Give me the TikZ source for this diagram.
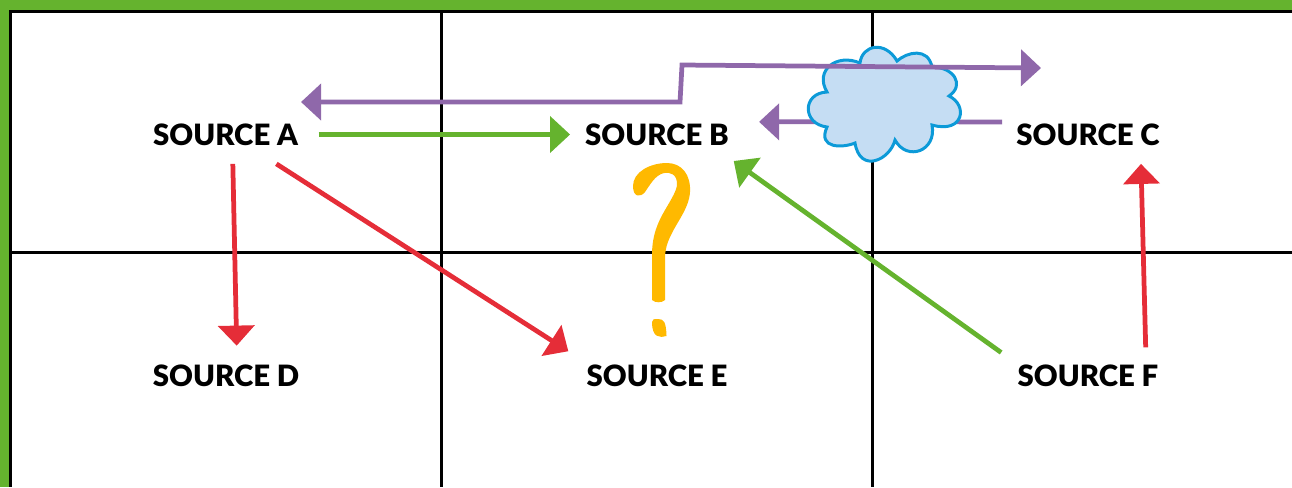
\documentclass[tikz,border=0pt]{standalone}
\usepackage{fontspec}
\setmainfont{Lato}
\newfontfamily\srcfont{Lato Black}
\usetikzlibrary{arrows.meta}
\definecolor{framegreen}{HTML}{65B32E}
\definecolor{flowpurple}{HTML}{8F68AA}
\definecolor{flowred}{HTML}{E52D38}
\definecolor{cloudfill}{HTML}{C5DDF3}
\definecolor{cloudedge}{HTML}{0C9AD8}
\definecolor{markyellow}{HTML}{FFB900}
\begin{document}
\begin{tikzpicture}[x=0.01cm,y=-0.01cm]
\tikzset{source/.style={inner sep=5pt,text height=6.3pt,text depth=0pt,font=\srcfont\fontsize{8.35}{10}\selectfont}}
\tikzset{gridline/.style={draw=black,line width=0.85pt}}
\tikzset{flow/.style={line width=1.35pt,-{Triangle[length=5.7pt,width=10.2pt]}}}
\useasboundingbox (0,0) rectangle (1292,487);
% border and grid
\fill[framegreen] (0,0) rectangle (1292,10);
\fill[framegreen] (0,0) rectangle (9.5,487);
\draw[gridline] (1292,11.5) -- (10.5,11.5) -- (10.5,487);
\draw[gridline] (441,11.5) -- (441,487);
\draw[gridline] (872,11.5) -- (872,487);
\draw[gridline] (10.5,252) -- (1292,252);

\node[source] (srcA) at (225.5,134.5) {SOURCE A};
\node[source] (srcB) at (657,134.5) {SOURCE B};
\node[source] (srcC) at (1088,134.5) {SOURCE C};
\node[source] (srcD) at (226,375) {SOURCE D};
\node[source] (srcE) at (657,375) {SOURCE E};
\node[source] (srcF) at (1088,375) {SOURCE F};

\draw[flow,flowpurple,shorten >=3.4pt,shorten <=-1.1pt] (srcC.172) -- (srcB.8);
% cloud sits over the lower purple line
\draw[cloudedge,fill=cloudfill,line width=0.85pt] (860,63)
  .. controls (862,45) and (885,40) .. (897,61)
  .. controls (907,52) and (928,47) .. (932,67)
  .. controls (954,67) and (965,85) .. (949,96)
  .. controls (968,105) and (964,134) .. (932,125)
  .. controls (937,151) and (907,162) .. (895,140)
  .. controls (890,160) and (860,174) .. (855,143)
  .. controls (843,148) and (817,149) .. (827,127)
  .. controls (802,124) and (802,93) .. (827,92)
  .. controls (814,70) and (837,53) .. cycle;

\coordinate (toA) at (301,102);
\coordinate (toC) at (1041,68);
\coordinate (bendL) at (680,102);
\coordinate (bendH) at (682,65);
\draw[flow,{Triangle[length=5.7pt,width=10.2pt]}-{Triangle[length=5.7pt,width=10.2pt]},flowpurple,line join=miter] (toA) -- (bendL) -- (bendH) -- (toC);

\draw[flow,framegreen,shorten >=-0.9pt,shorten <=0.7pt] (srcA.east) -- (srcB.west);
\draw[flow,framegreen,shorten >=-1.4pt,shorten <=-0.6pt] (srcF.165.5) -- (srcB.340.8);
\draw[flow,flowred] (srcA.284.7) -- (srcD.70.7);
\draw[flow,flowred] (srcA.330) -- (srcE.165.5);
\draw[flow,flowred,shorten <=-0.5pt] (srcF.27.2) -- (srcC.331);

% question mark
\fill[markyellow] (652,300) -- (652,255)
  .. controls (652,235) and (658,222) .. (665,210)
  .. controls (672,198) and (677,190) .. (677,184)
  .. controls (677,174) and (670,172) .. (664,173)
  .. controls (655,175) and (650,185) .. (645,192)
  .. controls (640,198) and (633,197) .. (633,186)
  .. controls (633,172) and (650,163) .. (667,163)
  .. controls (682,163) and (691,175) .. (690,192)
  .. controls (689,208) and (677,222) .. (671,235)
  .. controls (667,243) and (665,250) .. (665,258)
  -- (665,300) .. controls (662,303) and (655,303) .. cycle;
\fill[markyellow] (652,322) .. controls (652,319) and (654,319) .. (658,319)
  .. controls (664,319) and (666,322) .. (666.5,336)
  .. controls (660,338) and (652,338) .. (652,322) -- cycle;
\end{tikzpicture}
\end{document}
